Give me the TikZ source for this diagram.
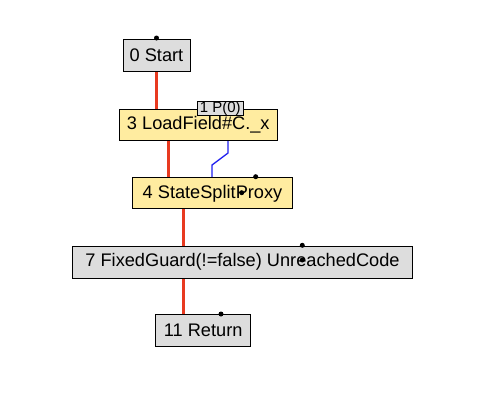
\documentclass[tikz,border=0pt]{standalone}
\usepackage{fontspec}
\setmainfont{Liberation Sans}
\begin{document}
\begin{tikzpicture}[x=1pt,y=-1pt,
  gbox/.style={draw=black, fill=boxgray, line width=0.8pt, inner sep=0pt, font=\fontsize{18.2}{20}\selectfont},
  ybox/.style={draw=black, fill=boxyellow, line width=0.8pt, inner sep=0pt, font=\fontsize{18.2}{20}\selectfont},
  ctrl/.style={draw=ctrlred, line width=3pt},
  dat/.style={draw=datblue, line width=1.3pt},
  pin/.style={circle, fill=black, inner sep=0pt, minimum size=5pt}]
\definecolor{boxgray}{RGB}{221,221,221}
\definecolor{boxyellow}{RGB}{255,236,160}
\definecolor{ctrlred}{RGB}{232,58,32}
\definecolor{datblue}{RGB}{32,32,240}
\useasboundingbox (0,0) rectangle (477,413);
\fill[white] (0,0) rectangle (477,413);
% edges first
\coordinate (s0) at (156,71);
\coordinate (l0) at (156,109);
\coordinate (l1) at (168,140);
\coordinate (p1) at (168,178);
\coordinate (b1) at (228,140);
\coordinate (b2) at (228,153);
\coordinate (b3) at (212,165);
\coordinate (b4) at (212,178);
\coordinate (p2) at (183,209);
\coordinate (f1) at (183,246);
\coordinate (f2) at (183,278);
\coordinate (r1) at (183,315);
\draw[ctrl] (s0) -- (l0);
\draw[ctrl] (l1) -- (p1);
\draw[dat] (b1) -- (b2) -- (b3) -- (b4);
\draw[ctrl] (p2) -- (f1);
\draw[ctrl] (f2) -- (r1);
% nodes
\node[gbox, minimum width=67pt, minimum height=32pt] (start) at (156.5,55.5) {0 Start};
\node[ybox, minimum width=158pt, minimum height=31pt] (load) at (198.3,124.5) {3 LoadField\#C.\_x};
\node[gbox, minimum width=46pt, minimum height=11.7pt, font=\fontsize{15}{15}\selectfont] (param) at (220.3,108.2) {1 P(0)};
\node[ybox, minimum width=160pt, minimum height=31pt] (split) at (212.5,193.3) {4 StateSplitProxy};
\node[gbox, minimum width=340pt, minimum height=32pt] (guard) at (242.5,262.2) {7 FixedGuard(!=false) UnreachedCode};
\node[gbox, minimum width=95pt, minimum height=32pt] (ret) at (203.2,330.8) {11 Return};
% pins
\node[pin] (d0) at (156.5,38) {};
\node[pin] (d1) at (255.7,176.7) {};
\node[pin] (d2) at (241.7,192.7) {};
\node[pin] (d3) at (302.3,245.3) {};
\node[pin] (d4) at (302.3,260) {};
\node[pin] (d5) at (221,314) {};
\end{tikzpicture}
\end{document}
